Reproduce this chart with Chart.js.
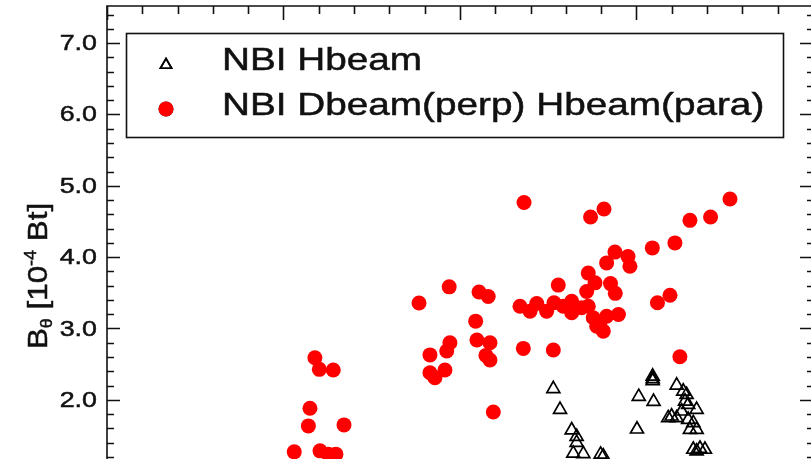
<!DOCTYPE html>
<html>
<head>
<meta charset="utf-8">
<script src="https://cdn.jsdelivr.net/npm/chart.js@4.4.1/dist/chart.umd.min.js"></script>
<style>
  html, body { margin: 0; padding: 0; background: #fff; overflow: hidden; }
  #wrap { width: 811px; height: 459px; }
</style>
</head>
<body>
<div id="wrap"><canvas id="c" width="811" height="459"></canvas></div>
<script>
// Series names
const seriesNames = ['NBI Hbeam', 'NBI Dbeam(perp) Hbeam(para)'];

// NBI Hbeam (open triangles)
const hbeamX = [2.529, 2.567, 2.633, 2.661, 2.661, 2.642, 2.699, 2.797, 2.812,
                3.013, 3.097, 3.003, 3.092, 3.092, 3.092, 3.228, 3.265, 3.284,
                3.275, 3.293, 3.341, 3.256, 3.199, 3.180, 3.228, 3.293, 3.322,
                3.303, 3.341, 3.322, 3.341, 3.360, 3.388];
const hbeamY = [2.154, 1.863, 1.576, 1.483, 1.399, 1.248, 1.241, 1.235, 1.210,
                2.045, 1.975, 1.587, 2.329, 2.294, 2.266, 2.203, 2.119, 2.073,
                1.979, 1.933, 1.863, 1.839, 1.769, 1.746, 1.746, 1.723, 1.676,
                1.583, 1.583, 1.303, 1.280, 1.317, 1.303];

// NBI Dbeam(perp) Hbeam(para) (filled red circles)
const dbeamX = [1.061, 1.207, 1.254, 1.297, 1.150, 1.141, 1.343, 1.178, 1.203, 1.282,
                1.768, 1.939, 2.108, 2.160, 2.089, 2.096, 2.170, 1.943, 1.925, 1.830,
                2.147, 2.170, 1.830, 1.858, 1.915, 2.189, 2.363, 2.340, 2.397, 2.359,
                2.529, 2.435, 2.491, 2.533, 2.585, 2.557, 2.633, 2.633, 2.689, 2.727,
                2.740, 2.816, 2.727, 2.765, 2.718, 2.853, 2.880, 2.755, 2.775, 2.793,
                2.812, 2.831, 2.898, 2.878, 2.831, 2.952, 2.963, 3.090, 3.218, 3.303,
                3.420, 3.530, 3.190, 3.119, 3.246];
const dbeamY = [1.270, 1.284, 1.238, 1.238, 1.881, 1.634, 1.648, 2.590, 2.427, 2.417,
                3.357, 3.583, 3.510, 3.448, 3.102, 2.839, 2.800, 2.800, 2.683, 2.629,
                2.622, 2.557, 2.380, 2.310, 2.417, 1.829, 4.766, 3.312, 3.242, 2.720,
                2.697, 3.350, 3.242, 3.360, 3.312, 3.608, 3.382, 3.220, 3.290, 3.312,
                4.562, 4.674, 3.776, 3.639, 3.517, 3.629, 3.492, 3.150, 3.032, 3.080,
                2.962, 3.172, 3.196, 4.070, 3.919, 4.007, 3.871, 4.129, 4.199, 4.515,
                4.562, 4.814, 3.466, 3.360, 2.604];

// Axis ranges and ticks
const xRange = [0, 3.989];
const yRange = [1.17, 7.52];
const xMajorTicks = [0, 1, 2, 3, 4];
const yMajorTicks = [2, 3, 4, 5, 6, 7];
const yTickLabels = ['2.0', '3.0', '4.0', '5.0', '6.0', '7.0'];
const minorStep = 0.2;

const toPoints = (xs, ys) => xs.map((x, i) => ({ x: x, y: ys[i] }));

const INK = '#111';
const FONT = '"Liberation Sans", Arial, Helvetica, sans-serif';

// Text drawn with a horizontal stretch (wide face) and a hairline outline for weight
function stretchedText(ctx, text, x, y, sx) {
  ctx.save();
  ctx.translate(x, y);
  ctx.scale(sx, 1);
  ctx.fillText(text, 0, 0);
  ctx.lineWidth = 0.5;
  ctx.strokeStyle = ctx.fillStyle;
  ctx.strokeText(text, 0, 0);
  ctx.restore();
}

const framePlugin = {
  id: 'frame',
  afterDraw(chart) {
    const ctx = chart.ctx;
    const a = chart.chartArea;
    const xs = chart.scales.x, ys = chart.scales.y;
    ctx.save();
    ctx.strokeStyle = INK;
    ctx.lineWidth = 1.6;
    ctx.lineCap = 'butt';

    // left and top border
    ctx.beginPath();
    ctx.moveTo(a.left, a.bottom + 1);
    ctx.lineTo(a.left, a.top);
    ctx.lineTo(a.right + 2, a.top);
    ctx.stroke();

    // y ticks (left and right, inward)
    const eps = 1e-6;
    for (let v = Math.ceil(yRange[0] / minorStep) * minorStep; v <= yRange[1] + eps; v += minorStep) {
      const val = Math.round(v * 10) / 10;
      const major = yMajorTicks.some(t => Math.abs(t - val) < eps);
      const py = Math.round(ys.getPixelForValue(val)) + 0.5;
      ctx.beginPath();
      ctx.moveTo(a.left, py);
      ctx.lineTo(a.left + (major ? 13 : 7), py);
      ctx.moveTo(a.right + 2, py);
      ctx.lineTo(a.right + 2 - (major ? 13 : 6), py);
      ctx.stroke();
    }
    // x ticks (top, inward)
    for (let v = 0; v <= xRange[1] + eps; v += minorStep) {
      const val = Math.round(v * 10) / 10;
      const major = xMajorTicks.some(t => Math.abs(t - val) < eps);
      const px = Math.round(xs.getPixelForValue(val)) + 0.5;
      ctx.beginPath();
      ctx.moveTo(px, a.top);
      ctx.lineTo(px, a.top + (major ? 14 : 8));
      ctx.stroke();
    }

    // y tick labels
    ctx.fillStyle = INK;
    ctx.font = '22px ' + FONT;
    ctx.textBaseline = 'middle';
    ctx.textAlign = 'right';
    yMajorTicks.forEach((t, i) => {
      const py = ys.getPixelForValue(t);
      stretchedText(ctx, yTickLabels[i], 97, py + 1, 1.22);
    });

    // y axis title: B_theta [10^-4 Bt]
    const parts = [
      { t: 'B', size: 28, dy: 0 },
      { t: 'θ', size: 16, dy: 5 },
      { t: ' [10', size: 28, dy: 0 },
      { t: '-4', size: 16, dy: -11 },
      { t: ' Bt]', size: 28, dy: 0 }
    ];
    const tsx = 1.12;
    let total = 0;
    parts.forEach(p => { ctx.font = p.size + 'px ' + FONT; p.w = ctx.measureText(p.t).width * tsx; total += p.w; });
    ctx.save();
    ctx.translate(47, 276);
    ctx.rotate(-Math.PI / 2);
    ctx.textAlign = 'left';
    ctx.textBaseline = 'alphabetic';
    let cx = -total / 2;
    parts.forEach(p => {
      ctx.font = p.size + 'px ' + FONT;
      stretchedText(ctx, p.t, cx, p.dy, tsx);
      cx += p.w;
    });
    ctx.restore();

    // legend box
    const box = { l: 126.5, t: 33.5, r: 783.5, b: 137.5 };
    ctx.fillStyle = '#fff';
    ctx.fillRect(box.l, box.t, box.r - box.l, box.b - box.t);
    ctx.strokeStyle = INK;
    ctx.lineWidth = 1.6;
    ctx.strokeRect(box.l, box.t, box.r - box.l, box.b - box.t);

    const rows = [{ my: 65, by: 70 }, { my: 109, by: 115 }];
    chart.data.datasets.forEach((ds, i) => {
      const r = rows[i];
      Chart.helpers.drawPoint(ctx, {
        pointStyle: ds.pointStyle,
        radius: ds.pointStyle === 'triangle' ? 6.5 : ds.pointRadius,
        borderWidth: ds.borderWidth
      }, 166, r.my);
      ctx.fillStyle = ds.backgroundColor;
      ctx.strokeStyle = ds.borderColor;
      ctx.lineWidth = ds.borderWidth;
      if (ds.pointStyle === 'circle') ctx.fill();
      if (ds.borderWidth > 0) ctx.stroke();
      ctx.fillStyle = INK;
      ctx.font = '32px ' + FONT;
      ctx.textAlign = 'left';
      ctx.textBaseline = 'alphabetic';
      stretchedText(ctx, ds.label, 222, r.by, 1.21);
    });
    ctx.restore();
  }
};

new Chart(document.getElementById('c'), {
  type: 'scatter',
  data: {
    datasets: [
      {
        label: seriesNames[0],
        data: toPoints(hbeamX, hbeamY),
        pointStyle: 'triangle',
        pointRadius: 7.5,
        pointHoverRadius: 7.5,
        backgroundColor: 'rgba(0,0,0,0)',
        borderColor: '#000',
        borderWidth: 1.7
      },
      {
        label: seriesNames[1],
        data: toPoints(dbeamX, dbeamY),
        pointStyle: 'circle',
        pointRadius: 7.5,
        pointHoverRadius: 7.5,
        backgroundColor: '#ff0000',
        borderColor: '#ff0000',
        borderWidth: 0
      }
    ]
  },
  options: {
    responsive: false,
    animation: false,
    devicePixelRatio: 1,
    layout: { autoPadding: false, padding: { left: 107, top: 6, right: 0, bottom: 0 } },
    plugins: { legend: { display: false }, tooltip: { enabled: false } },
    scales: {
      x: { type: 'linear', min: xRange[0], max: xRange[1], display: false },
      y: { type: 'linear', min: yRange[0], max: yRange[1], display: false }
    }
  },
  plugins: [framePlugin]
});
</script>
</body>
</html>
